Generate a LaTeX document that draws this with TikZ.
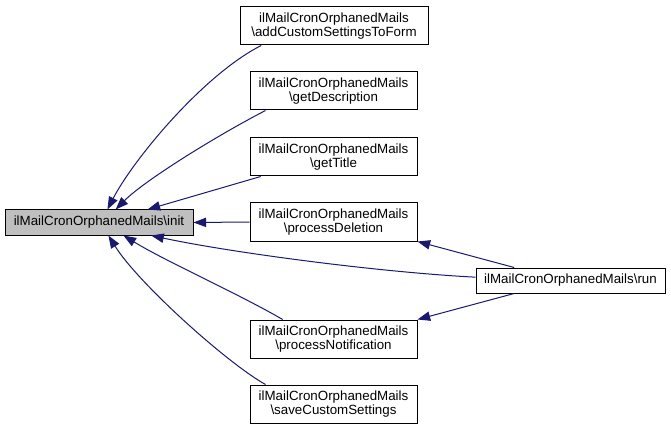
\documentclass[tikz,border=0pt]{standalone}
\usepackage{fontspec}
\setmainfont{Liberation Sans}
\usetikzlibrary{arrows.meta}
\definecolor{midnightblue}{HTML}{191970}
\definecolor{grey75}{HTML}{BFBFBF}

\begin{document}
\begin{tikzpicture}[x=0.75pt, y=-0.75pt,
  fn/.style={draw, line width=0.75pt, align=center, inner sep=0pt,
    minimum width=125.25pt, minimum height=28.5pt, font=\fontsize{10}{10.5}\selectfont},
  call/.style={-{Triangle[length=9.5pt,width=7pt]}, draw=midnightblue, fill=none,
    line width=0.75pt}]
 \useasboundingbox (0,0) rectangle (671,431);
 \node [fn, fill=grey75, minimum width=141pt, minimum height=18.75pt] (init) at (99,222.5) {ilMailCronOrphanedMails\textbackslash init};
 \node [fn, minimum width=141pt] (addc) at (334,26) {ilMailCronOrphanedMails\\\textbackslash addCustomSettingsToForm};
 \node [fn] (gdes) at (333.5,91) {ilMailCronOrphanedMails\\\textbackslash getDescription};
 \node [fn] (gtit) at (333.5,157) {ilMailCronOrphanedMails\\\textbackslash getTitle};
 \node [fn] (pdel) at (333.5,222) {ilMailCronOrphanedMails\\\textbackslash processDeletion};
 \node [fn] (pnot) at (333.5,339) {ilMailCronOrphanedMails\\\textbackslash processNotification};
 \node [fn] (scus) at (333.5,404) {ilMailCronOrphanedMails\\\textbackslash saveCustomSettings};
 \node [fn, minimum width=141.75pt, minimum height=18.75pt] (run) at (570.5,280.5) {ilMailCronOrphanedMails\textbackslash run};
 \draw [call] (addc.195) .. controls (203,75) and (133,160) .. (init.57);
 \draw [call] (gdes.196) .. controls (218,135) and (145,180) .. (init.38);
 \draw [call] (gtit.195) -- (init.15);
 \draw [call] (pdel.west) -- (init.east);
 \draw [call] (run.178) .. controls (376,272) and (228,252) .. (init.-14);
 \draw [call] (pnot.159) .. controls (235,292) and (167,262) .. (init.-28);
 \draw [call] (scus.164) .. controls (227,363) and (138,283) .. (init.-54);
 \draw [call] (run.167) -- (pdel.south east);
 \draw [call] (run.193) -- (pnot.north east);
\end{tikzpicture}
\end{document}
